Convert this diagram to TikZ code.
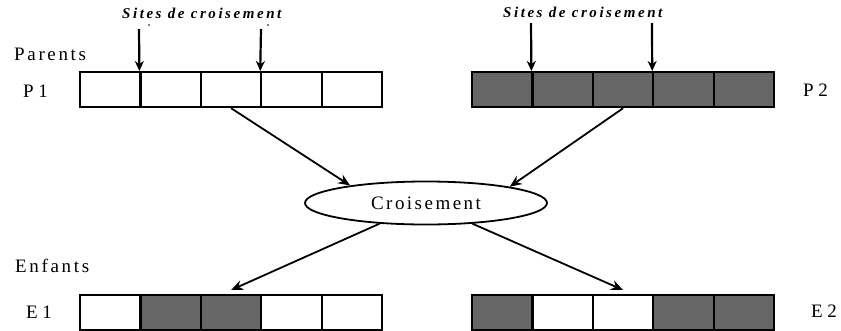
\documentclass[tikz,border=0pt]{standalone}
\usepackage{fontspec}
\setmainfont{Liberation Serif}
\usetikzlibrary{arrows.meta,shapes.geometric}

\definecolor{gene}{HTML}{666666}

\begin{document}
\begin{tikzpicture}[x=1pt,y=-1pt,
  cell/.style={draw=black,line width=2.2pt,minimum width=60.4pt,minimum height=35pt,
               inner sep=0pt,anchor=north west},
  lbl/.style={inner sep=0pt,anchor=base west,font=\fontsize{19}{19}\selectfont\addfontfeatures{LetterSpace=14}},
  tag/.style={inner sep=0pt,anchor=base west,font=\fontsize{19}{19}\selectfont\addfontfeatures{LetterSpace=24}},
  site/.style={inner sep=0pt,anchor=base west,
               font=\fontsize{15}{15}\selectfont\bfseries\itshape\addfontfeatures{LetterSpace=17}},
  sitearrow/.style={draw=black,line width=2.2pt,-{Stealth[length=10pt,width=9pt,inset=3pt]}},
  flow/.style={draw=black,line width=1.8pt,-{Stealth[length=12pt,width=10pt,inset=4pt]}},
  oper/.style={ellipse,draw=black,line width=1.8pt,minimum width=242pt,minimum height=43pt,
               inner sep=0pt,font=\fontsize{19}{19}\selectfont\addfontfeatures{LetterSpace=13}}
]
\useasboundingbox (0,0) rectangle (841,330);

% chromosome bars: five genes each
\foreach \f [count=\i from 0] in {white,white,white,white,white}
  \node[cell,fill=\f] (p1c\i) at ({79+60.4*\i},71) {};
\foreach \f [count=\i from 0] in {gene,gene,gene,gene,gene}
  \node[cell,fill=\f] (p2c\i) at ({471+60.4*\i},71) {};
\foreach \f [count=\i from 0] in {white,gene,gene,white,white}
  \node[cell,fill=\f] (e1c\i) at ({79+60.4*\i},294) {};
\foreach \f [count=\i from 0] in {gene,white,white,gene,gene}
  \node[cell,fill=\f] (e2c\i) at ({471+60.4*\i},294) {};

% labels
\node[lbl] (parents) at (14,60) {Parents};
\node[tag] (lp1) at (23,97) {P1};
\node[tag] (lp2) at (803,96) {P2};
\node[lbl] (enfants) at (15,272) {Enfants};
\node[tag] (le1) at (26,318) {E1};
\node[tag] (le2) at (811,317) {E2};

% crossover sites
\node[site] (sites1) at (122,18) {Sites de croisement};
\node[site] (sites2) at (503,17) {Sites de croisement};
\fill (149,25) circle (0.9pt);
\fill (268,25) circle (0.9pt);

\coordinate (a1) at (139,29);
\coordinate (a2) at (261,29);
\coordinate (a3) at (531,23);
\coordinate (a4) at (652,23);
\draw[sitearrow] (a1) -- (p1c1.north west);
\draw[sitearrow] (a2) -- (p1c3.north west);
\draw[sitearrow] (a3) -- (p2c1.north west);
\draw[sitearrow] (a4) -- (p2c3.north west);

% crossover operator
\node[oper] (cross) at (426,203) {Croisement};

\draw[flow] (p1c2.south) -- (cross.167);
\draw[flow] (p2c2.south) -- (cross.11);
\draw[flow] (cross.204) -- ([yshift=4pt]e1c2.north);
\draw[flow] (cross.336) -- ([yshift=4pt]e2c2.north);
\end{tikzpicture}
\end{document}
